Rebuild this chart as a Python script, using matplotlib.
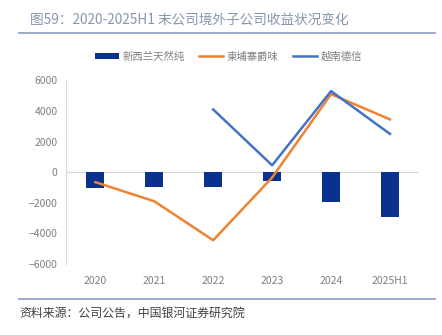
import numpy as np
import matplotlib.pyplot as plt

plt.rcParams['font.family'] = ['Noto Sans CJK SC', 'DejaVu Sans']

# 数据
years = ['2020', '2021', '2022', '2023', '2024', '2025H1']
nz = [-1050, -950, -950, -550, -1950, -2950]
kh = [-650, -1900, -4450, -350, 5100, 3450]
vn = [np.nan, np.nan, 4100, 450, 5300, 2500]

fig = plt.figure(figsize=(4.42, 3.35), dpi=100)
ax = fig.add_axes([0.149, 0.212, 0.80, 0.548])

x = np.arange(len(years))
b = ax.bar(x, nz, width=0.31, color='#0B318F', label='新西兰天然纯', zorder=2)
l1, = ax.plot(x, kh, color='#F08331', lw=1.8, label='柬埔寨爵味', zorder=3)
l2, = ax.plot(x, vn, color='#4472C4', lw=1.8, label='越南德信', zorder=3)

ax.set_xlim(-0.5, len(years) - 0.5)
ax.set_ylim(-6000, 6000)
ax.set_yticks(range(-6000, 6001, 2000))
ax.set_xticks(x)
ax.set_xticklabels(years)
ax.tick_params(length=0, labelsize=7.5, colors='#7F7F7F', pad=6)
ax.tick_params(axis='x', pad=9)
ax.axhline(0, color='#D9D9D9', lw=0.9, zorder=1)
for s in ['top', 'right', 'bottom']:
    ax.spines[s].set_visible(False)
ax.spines['left'].set_color('#D9D9D9')
ax.spines['left'].set_linewidth(0.9)

ax.legend([b, l1, l2], ['新西兰天然纯', '柬埔寨爵味', '越南德信'],
          loc='center', bbox_to_anchor=(0.46, 1.13), ncol=3, frameon=False,
          fontsize=7.5, labelcolor='#7F7F7F', handlelength=2.3, handleheight=0.5,
          columnspacing=1.4, handletextpad=0.35)

# 标题与来源
fig.text(0.068, 0.94, '图59：2020-2025H1 末公司境外子公司收益状况变化', fontsize=9.8,
         color='#8496B0', va='center')
fig.add_artist(plt.Line2D([0.043, 0.985], [0.901, 0.901], color='#8A9AC6', lw=1.2))
fig.add_artist(plt.Line2D([0.043, 0.985], [0.106, 0.106], color='#8A9AC6', lw=1.2))
fig.text(0.045, 0.066, '资料来源：公司公告，中国银河证券研究院', fontsize=8.6,
         color='#404040', style='italic', va='center')

fig.savefig('out.png', dpi=100)
